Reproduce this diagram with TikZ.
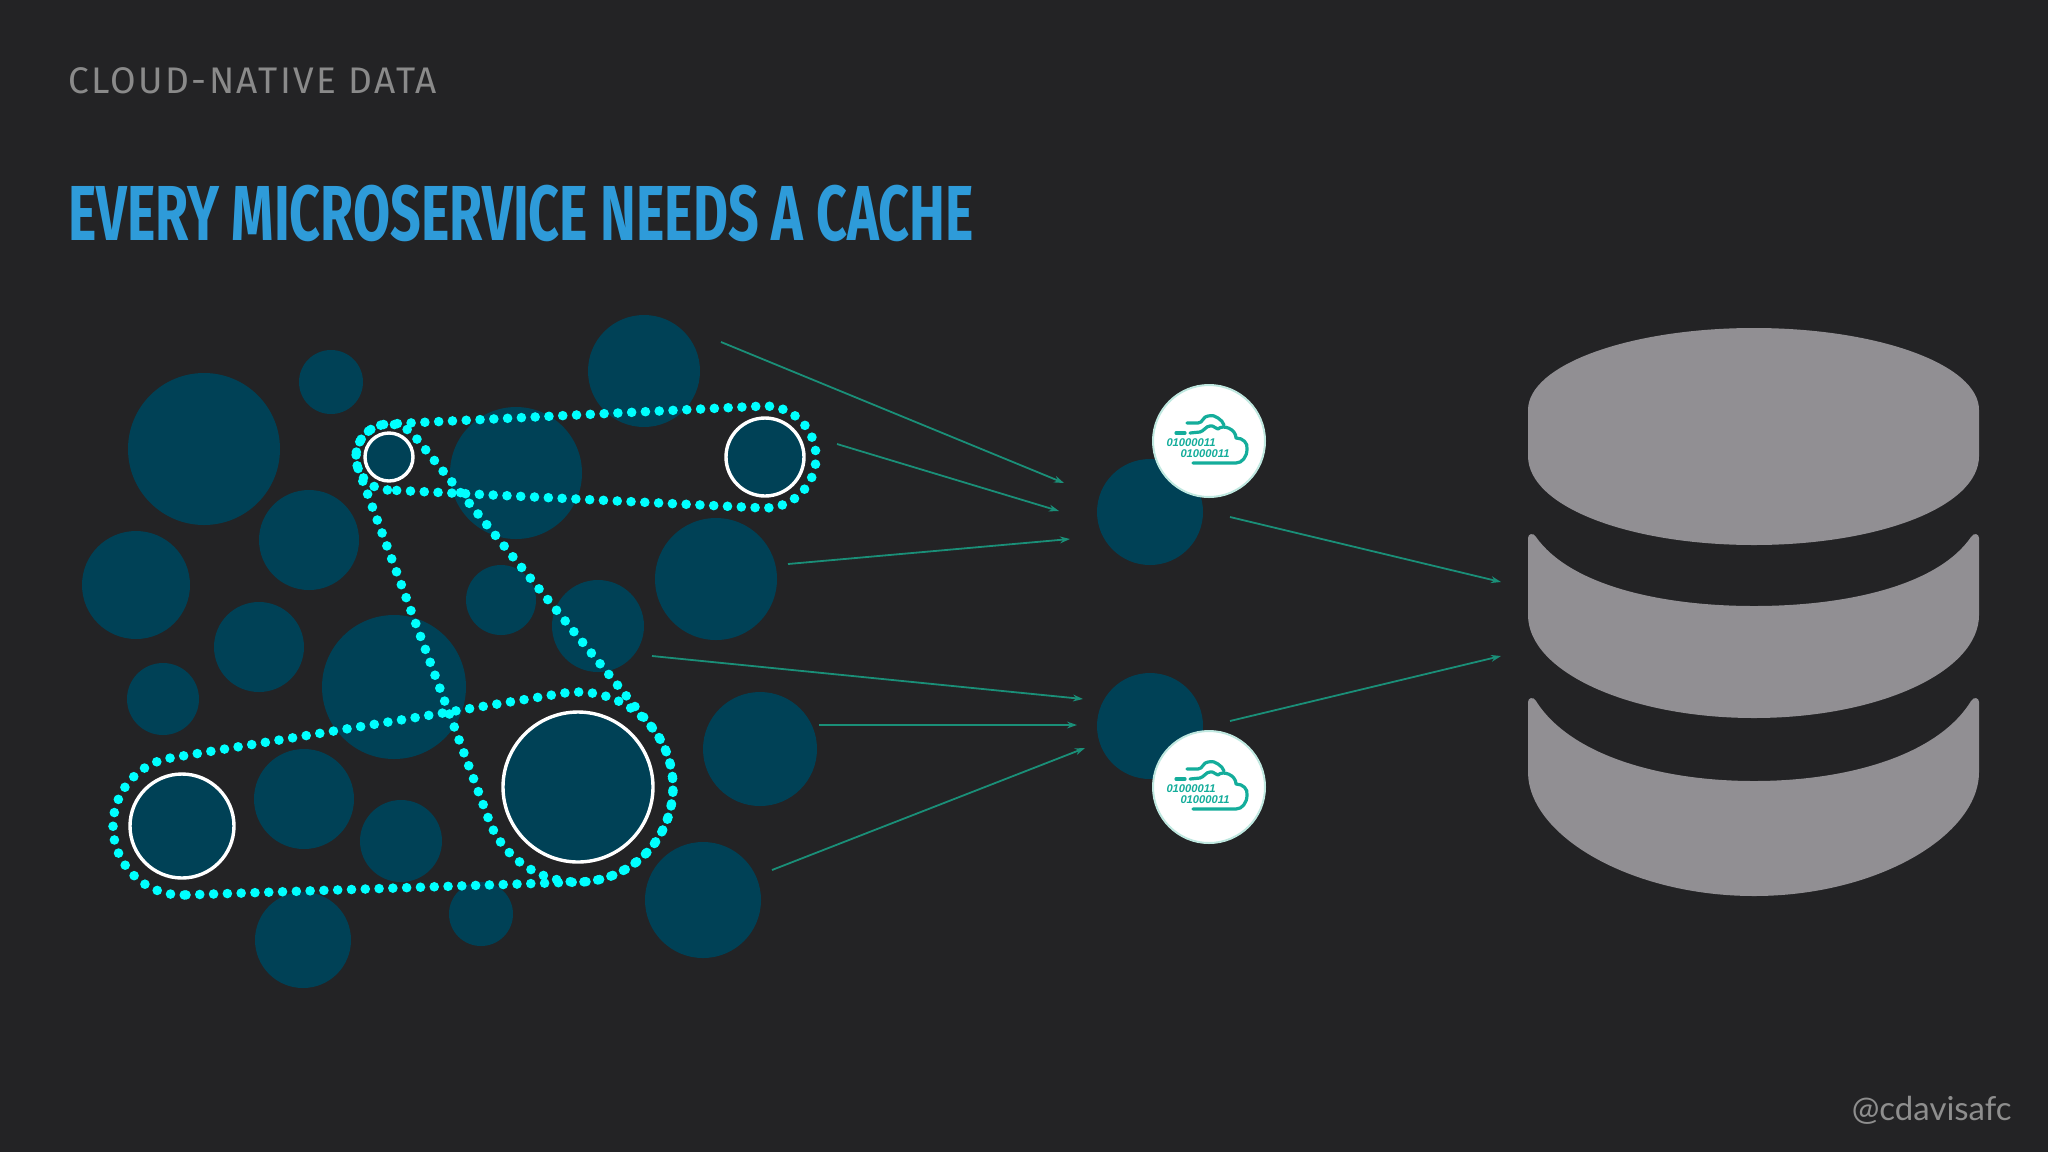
\documentclass[tikz,border=0pt]{standalone}
\usepackage{fontspec}
\usetikzlibrary{arrows.meta}
\setmainfont{Fira Sans}
\newfontfamily\titlefont[FakeStretch=0.69]{Fira Sans}
\newfontfamily\headfont[FakeStretch=1.0,LetterSpace=6.5]{Fira Sans}
\newfontfamily\handlefont{Lato}
\newfontfamily\bitfont{Liberation Sans}
\definecolor{bgc}{HTML}{232325}
\definecolor{svcc}{HTML}{004156}
\definecolor{beltc}{HTML}{00FFFF}
\definecolor{arrowc}{HTML}{1A8F78}
\definecolor{dbc}{HTML}{918F93}
\definecolor{titlec}{HTML}{2E9BD9}
\definecolor{headc}{HTML}{8A8A8A}
\definecolor{handc}{HTML}{8E8E8E}
\definecolor{iconc}{HTML}{14AD9B}
\definecolor{iconr}{HTML}{BFE8E0}
\tikzset{
  svc/.style={circle,fill=svcc,inner sep=0pt,outer sep=0pt},
  ring/.style={circle,fill=svcc,draw=white,line width=1.7pt,inner sep=0pt,outer sep=0pt},
  belt/.style={draw=beltc,line width=4.8pt,line cap=round,dash pattern=on 0pt off 6.9pt},
  flow/.style={draw=arrowc,line width=0.9pt,-{Stealth[length=5pt,width=3.4pt]}},
  dbpart/.style={fill=dbc,draw=none},
  iconline/.style={draw=iconc,line width=1.6pt,line cap=round,line join=round},
  bits/.style={text=iconc,inner sep=0pt,font=\bitfont\itshape\bfseries\fontsize{5.6}{6}\selectfont}
}
\newcommand{\svcat}[4]{\node[svc,minimum size=#4 pt] (#1) at (#2,#3) {};}
\newcommand{\ringat}[4]{\node[ring,minimum size=#4 pt] (#1) at (#2,#3) {};}
\newcommand{\beltloop}[6]{%
  \pgfmathsetmacro\ba{atan2(#5-#2,#4-#1)}%
  \pgfmathsetmacro\bb{acos((#3-#6)/veclen(#5-#2,#4-#1))}%
  \pgfmathsetmacro\bs{\ba+\bb}%
  \pgfmathsetmacro\be{\ba+360-\bb}%
  \pgfmathsetmacro\bt{\ba-\bb}%
  \draw[belt] ({#1+#3*cos(\bs)},{#2+#3*sin(\bs)})
    arc[start angle=\bs,end angle=\be,radius=#3]
    -- ({#4+#6*cos(\bt)},{#5+#6*sin(\bt)})
    arc[start angle=\bt,end angle=\bs,radius=#6]
    -- cycle;}
\newcommand{\cacheicon}[3]{%
  \node[circle,fill=white,draw=iconr,line width=1pt,minimum size=56pt,inner sep=0pt] (#1) at (#2,#3) {};
  \begin{scope}[shift={(#2,#3)}]
    \draw[iconline] (-22,-18) -- (-11,-18) .. controls (-6,-18) and (-6,-25) .. (-1,-25)
      .. controls (4,-26) and (6,-25) .. (9,-23) .. controls (12,-21) and (14,-19) .. (15,-16);
    \draw[iconline] (-33,-8) -- (-24,-8);
    \draw[iconline] (-19,-8) -- (-9,-9) .. controls (-5,-10) and (-3,-15) .. (1,-15)
      .. controls (5,-16) and (6,-12) .. (9,-12) .. controls (14,-17) and (27,-12) .. (27,-3)
      .. controls (34,-3) and (39,2) .. (38,8) .. controls (38,16) and (33,22) .. (27,22) -- (-16,22);
    \node[bits] at (-18,2) {01000011};
    \node[bits] at (-4,13) {01000011};
  \end{scope}}
\begin{document}
\begin{tikzpicture}[x=0.5pt,y=-0.5pt]
\useasboundingbox (0,0) rectangle (2048,1152);
\fill[bgc] (0,0) rectangle (2048,1152);

\node[anchor=base west,inner sep=0pt,text=headc,font=\headfont\fontsize{18.5}{20}\selectfont] (head) at (68,93) {CLOUD-NATIVE DATA};
\node[anchor=base west,inner sep=0pt,text=titlec,font=\titlefont\bfseries\fontsize{39}{42}\selectfont] (title) at (68,240) {EVERY MICROSERVICE NEEDS A CACHE};
\node[anchor=base east,inner sep=0pt,text=handc,font=\handlefont\fontsize{16.5}{20}\selectfont] (handle) at (2012,1120) {@cdavisafc};

\svcat{s1}{204}{449}{76}
\svcat{s2}{331}{382}{32}
\svcat{s3}{644}{371}{56}
\svcat{s4}{516}{473}{66}
\svcat{s5}{309}{540}{50}
\svcat{s6}{136}{585}{54}
\svcat{s7}{259}{647}{45}
\svcat{s8}{394}{687}{72}
\svcat{s9}{501}{600}{35}
\svcat{s10}{598}{626}{46}
\svcat{s11}{716}{579}{61}
\svcat{s12}{163}{699}{36}
\svcat{s13}{760}{749}{57}
\svcat{s14}{304}{799}{50}
\svcat{s15}{401}{841}{41}
\svcat{s16}{481}{914}{32}
\svcat{s17}{303}{940}{48}
\svcat{s18}{703}{900}{58}
\svcat{c1}{1150}{512}{53}
\svcat{c2}{1150}{726}{53}

\ringat{r1}{389}{457}{24}
\ringat{r2}{765}{457}{39}
\ringat{r3}{578}{787}{75}
\ringat{r4}{182}{826}{52}

\beltloop{389}{457}{33}{765}{457}{51}
\beltloop{389}{457}{33}{578}{787}{95}
\beltloop{182}{826}{69}{578}{787}{95}

\coordinate (a1) at (721,342);  \coordinate (b1) at (1064,483);
\coordinate (a2) at (837,444);  \coordinate (b2) at (1059,511);
\coordinate (a3) at (788,564);  \coordinate (b3) at (1070,539);
\coordinate (a4) at (652,656);  \coordinate (b4) at (1083,699);
\coordinate (a5) at (819,725);  \coordinate (b5) at (1077,725);
\coordinate (a6) at (772,870);  \coordinate (b6) at (1085,748);
\coordinate (a7) at (1230,517); \coordinate (b7) at (1501,582);
\coordinate (a8) at (1230,721); \coordinate (b8) at (1501,656);
\foreach \i in {1,...,8} \draw[flow] (a\i) -- (b\i);

\cacheicon{i1}{1209}{441}
\cacheicon{i2}{1209}{787}

\fill[dbpart] (1528,410) .. controls (1528,365) and (1629,328) .. (1754,328)
  .. controls (1879,328) and (1979,365) .. (1979,410) -- (1979,456)
  .. controls (1979,507) and (1878,545) .. (1754,545)
  .. controls (1630,545) and (1528,507) .. (1528,456) -- cycle;
\fill[dbpart] (1528,538) .. controls (1528,534) and (1533,532) .. (1536,537)
  .. controls (1570,585) and (1660,606) .. (1754,606)
  .. controls (1848,606) and (1938,585) .. (1971,537)
  .. controls (1974,532) and (1979,534) .. (1979,538) -- (1979,615)
  .. controls (1979,672) and (1878,718) .. (1754,718)
  .. controls (1630,718) and (1528,672) .. (1528,615) -- cycle;
\fill[dbpart] (1528,702) .. controls (1528,698) and (1533,696) .. (1536,701)
  .. controls (1570,755) and (1660,781) .. (1754,781)
  .. controls (1848,781) and (1938,755) .. (1971,701)
  .. controls (1974,696) and (1979,698) .. (1979,702) -- (1979,772)
  .. controls (1979,835) and (1878,896) .. (1754,896)
  .. controls (1630,896) and (1528,835) .. (1528,772) -- cycle;
\end{tikzpicture}
\end{document}
